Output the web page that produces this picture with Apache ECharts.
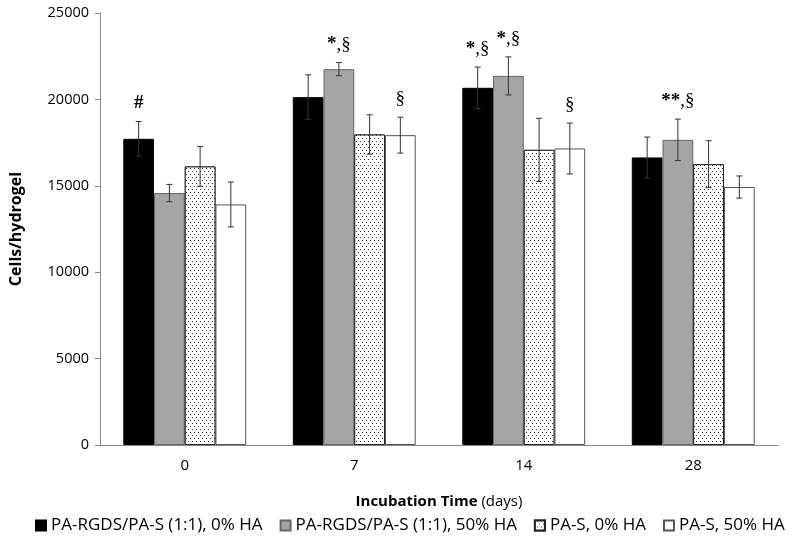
<!DOCTYPE html>
<html>
<head>
<meta charset="utf-8">
<script src="https://cdn.jsdelivr.net/npm/echarts@6/dist/echarts.min.js"></script>
<style>
  html, body {margin: 0; padding: 0; background: #fff;}
  #main {width: 800px; height: 549px;}
</style>
</head>
<body>
<div id="main"></div>
<script>
let days = ['0', '7', '14', '28'];
let names = ['PA-RGDS/PA-S (1:1), 0% HA', 'PA-RGDS/PA-S (1:1), 50% HA', 'PA-S, 0% HA', 'PA-S, 50% HA'];
// means per group
let rgds0 = [17720, 20130, 20670, 16640];
let rgds50 = [14580, 21750, 21360, 17660];
let s0 = [16120, 17970, 17080, 16250];
let s50 = [13920, 17930, 17160, 14930];
// error bar half widths
let errRgds0 = [1000, 1290, 1200, 1180];
let errRgds50 = [500, 380, 1100, 1200];
let errS0 = [1150, 1140, 1830, 1360];
let errS50 = [1300, 1040, 1470, 640];
// significance notes above the bars
let noteRgds0 = ['#', '', '*,§', ''];
let noteRgds50 = ['', '*,§', '*,§', '**,§'];
let noteS0 = ['', '', '', ''];
let noteS50 = ['', '§', '§', ''];

let means = [rgds0, rgds50, s0, s50];
let errs = [errRgds0, errRgds50, errS0, errS50];
let notes = [noteRgds0, noteRgds50, noteS0, noteS50];

let gapPct = 0.275;
let font = '"Open Sans", "Liberation Sans", sans-serif';

let dots = {
    color: '#333',
    backgroundColor: '#fff',
    symbol: 'rect',
    symbolSize: 1,
    dashArrayX: [[1, 3], [0, 2, 1, 1]],
    dashArrayY: [1, 2]
};

let styles = [
    {color: '#000', borderColor: '#000', borderWidth: 1},
    {color: '#a5a5a5', borderColor: '#666', borderWidth: 1},
    {color: '#fff', borderColor: '#222', borderWidth: 1, decal: dots},
    {color: '#fff', borderColor: '#555', borderWidth: 1}
];

function noteText(s) {
    // stars and hash bold, section mark plain
    return s.split('').map(c => c === '§' || c === ',' ? '{r|' + c + '}' : '{b|' + c + '}').join('');
}

let series = [];
means.forEach((vals, i) => {
    series.push({
        name: names[i],
        type: 'bar',
        barGap: 0,
        barCategoryGap: (gapPct * 100) + '%',
        itemStyle: styles[i],
        data: vals
    });
});
means.forEach((vals, i) => {
    series.push({
        type: 'custom',
        silent: true,
        z: 10,
        data: vals.map((v, k) => [k, v, errs[i][k]]),
        renderItem: function (params, api) {
            let k = api.value(0);
            let band = api.size([1, 0])[0];
            let bw = band * (1 - gapPct) / 4;
            let c = api.coord([k, api.value(1)]);
            let x = c[0] + (i - 1.5) * bw;
            let hi = api.coord([k, api.value(1) + api.value(2)])[1];
            let lo = api.coord([k, api.value(1) - api.value(2)])[1];
            let st = {stroke: '#333', lineWidth: 1};
            let kids = [
                {type: 'line', shape: {x1: x, y1: hi, x2: x, y2: lo}, style: st},
                {type: 'line', shape: {x1: x - 3, y1: hi, x2: x + 3, y2: hi}, style: st},
                {type: 'line', shape: {x1: x - 3, y1: lo, x2: x + 3, y2: lo}, style: st}
            ];
            let n = notes[i][k];
            if (n) {
                kids.push({
                    type: 'text',
                    style: {
                        text: noteText(n),
                        x: x, y: hi - 18,
                        align: 'center', verticalAlign: 'middle',
                        fill: '#000',
                        rich: {
                            b: {fontFamily: 'Liberation Serif', fontWeight: 'bold', fontSize: 19, fill: '#000'},
                            r: {fontFamily: 'Liberation Serif', fontSize: 19, fill: '#000'}
                        }
                    }
                });
            }
            return {type: 'group', children: kids};
        }
    });
});

let chart = echarts.init(document.getElementById('main'));
chart.setOption({
    animation: false,
    grid: {left: 99, right: 22, top: 13, bottom: 104},
    legend: {
        data: names,
        bottom: 10,
        left: 30,
        right: 0,
        icon: 'rect',
        itemWidth: 10,
        itemHeight: 10,
        itemGap: 17,
        textStyle: {fontFamily: font, fontSize: 17, color: '#000'}
    },
    xAxis: {
        type: 'category',
        data: days,
        name: '{b|Incubation Time} (days)',
        nameLocation: 'middle',
        nameGap: 49,
        nameTextStyle: {
            fontFamily: font, fontSize: 15, color: '#000',
            rich: {b: {fontFamily: font, fontSize: 15, fontWeight: 'bold', color: '#000'}}
        },
        axisLine: {lineStyle: {color: '#868686'}},
        axisTick: {length: 5, lineStyle: {color: '#868686'}},
        axisLabel: {fontFamily: font, fontSize: 15, color: '#000', margin: 13}
    },
    yAxis: {
        type: 'value',
        min: 0,
        max: 25000,
        interval: 5000,
        name: 'Cells/hydrogel',
        nameLocation: 'middle',
        nameGap: 76,
        nameTextStyle: {fontFamily: font, fontSize: 16, fontWeight: 'bold', color: '#000'},
        axisLine: {show: true, lineStyle: {color: '#868686'}},
        axisTick: {show: true, length: 5, lineStyle: {color: '#868686'}},
        splitLine: {show: false},
        axisLabel: {fontFamily: font, fontSize: 14.5, color: '#000', margin: 11, formatter: v => String(v)}
    },
    series: series
});
</script>
</body>
</html>
